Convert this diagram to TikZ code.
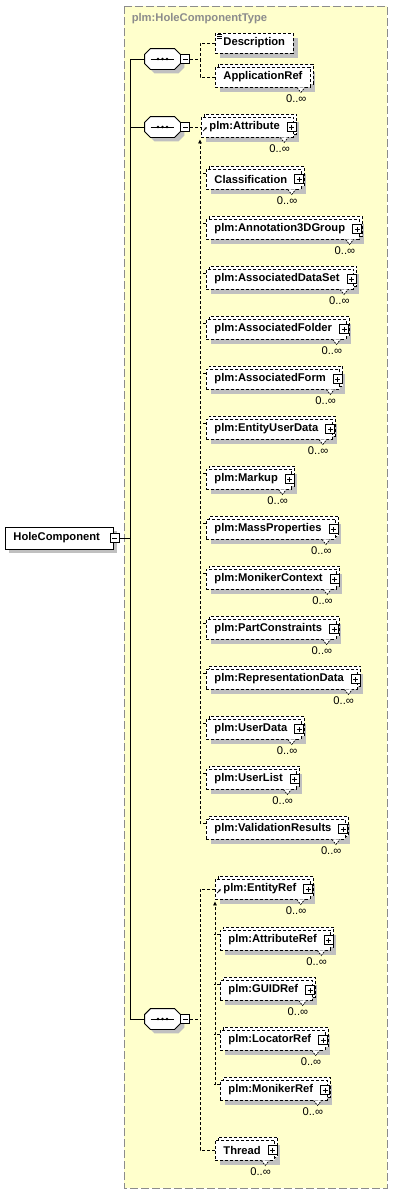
\documentclass[tikz,border=0pt]{standalone}
\usepackage{fontspec}
\setmainfont{Liberation Sans}
\usetikzlibrary{arrows.meta,positioning,shadows}
\definecolor{typefill}{HTML}{FFFFCC}
\definecolor{typeline}{HTML}{8C8C8C}
\definecolor{shade}{HTML}{C0C0C0}

\begin{document}
\begin{tikzpicture}[
    x=1pt, y=-1pt, line width=0.9pt,
    every node/.style={font=\fontsize{11.2}{13}\selectfont},
    shd/.style={general shadow={shadow xshift=#1, shadow yshift=-#1, fill=shade, draw=none}},
    elem/.style={draw, dash pattern=on 3pt off 2pt, fill=white, anchor=west, minimum height=20pt,
        inner xsep=8pt, inner ysep=2pt, font=\fontsize{11.2}{13}\selectfont\bfseries, shd=5pt},
    multi/.style={elem, copy shadow={shadow xshift=3pt, shadow yshift=3pt}},
    rootbox/.style={draw, solid, fill=white, anchor=west, minimum height=22pt, inner xsep=8pt,
        font=\fontsize{11.2}{13}\selectfont\bfseries, shd=4pt},
    seqbox/.style={minimum width=35pt, minimum height=20pt, inner sep=0pt},
    octo/.style={draw, fill=white, shd=4pt},
    mbox/.style={draw, solid, fill=white, minimum size=9pt, inner sep=0pt,
        path picture={\draw ([xshift=2pt]path picture bounding box.west) -- ([xshift=-2pt]path picture bounding box.east);}},
    pbox/.style={draw, solid, fill=white, minimum size=9pt, inner sep=0pt,
        path picture={\draw ([xshift=2pt]path picture bounding box.west) -- ([xshift=-2pt]path picture bounding box.east)
            ([yshift=2pt]path picture bounding box.south) -- ([yshift=-2pt]path picture bounding box.north);}},
    dline/.style={dash pattern=on 3pt off 2pt},
    notch/.style={fill=white, line width=0.7pt, dash pattern=on 2pt off 1pt},
    occ/.style={inner sep=0pt, anchor=north east},
    subarr/.style={dline, -{Triangle[length=4pt, width=3.5pt]}, shorten >=2pt}
]
\useasboundingbox (0,0) rectangle (393,1195);
\draw[typeline, fill=typefill, dash pattern=on 8pt off 3pt] (124,6) rectangle (387,1188);
\node[anchor=west, text=typeline, font=\fontsize{11.2}{13}\selectfont\bfseries] (title) at (128,19) {plm:HoleComponentType};

% root element and its three sequences
\node[rootbox] (root) at (5,538) {HoleComponent\hspace{5.5pt}\mbox{}};
\node[mbox] (root-m) at ([xshift=1pt]root.east) {};
\coordinate (trunk) at (130,538);
\node[seqbox] (seq1) at (162.5,59) {};
\node[seqbox] (seq2) at (162.5,127) {};
\node[seqbox] (seq3) at (162.5,1019) {};
\foreach \s in {seq1,seq2,seq3}{
  \draw[octo] ([xshift=6pt]\s.north west) -- ([xshift=-6pt]\s.north east) -- ([yshift=-6pt]\s.north east)
    -- ([yshift=6pt]\s.south east) -- ([xshift=-6pt]\s.south east) -- ([xshift=6pt]\s.south west)
    -- ([yshift=6pt]\s.south west) -- ([yshift=-6pt]\s.north west) -- cycle;
  \draw ([xshift=6pt]\s.west) -- ([xshift=-6pt]\s.east);
  \foreach \d in {-4.5,0,4.5} \fill ([xshift=\d pt]\s.center) circle (1.4pt);
  \node[mbox, right=0pt of \s] (\s-m) {};
  \draw (\s.west) -| (trunk);
}
\draw (root-m.east) -- (trunk);

% first sequence
\node[elem] (desc) at (215,43) {Description};
\foreach \k in {2,4,6} \draw[solid, line width=0.6pt] ([shift={(2,\k)}]desc.north west) -- ++(5,0);
\node[multi] (appref) at (215,77) {ApplicationRef};
\draw[notch] ([xshift=-14pt]appref.south east) -- ++(4,5) -- ++(4,-5);
\node[occ] (appref-o) at ([xshift=-4pt, yshift=-7pt]appref.south east) {0..∞};
\coordinate (b1) at (200,59);
\draw[dline] (seq1-m.east) -- (b1) (desc.west) -| (b1) (appref.west) -| (b1);

% elements with children
\foreach \n/\t/\x/\y in {attr/plm:Attribute/201/127, cls/Classification/206/179, ann/plm:Annotation3DGroup/206/229,
    ads/plm:AssociatedDataSet/206/279, afo/plm:AssociatedFolder/206/329, afm/plm:AssociatedForm/206/379,
    eud/plm:EntityUserData/206/429, mku/plm:Markup/206/479, mpr/plm:MassProperties/206/529,
    mct/plm:MonikerContext/206/579, pcs/plm:PartConstraints/206/629, rpd/plm:RepresentationData/206/679,
    udt/plm:UserData/206/729, uls/plm:UserList/206/779, vrs/plm:ValidationResults/206/829,
    eref/plm:EntityRef/215/889, aref/plm:AttributeRef/220/940, gref/plm:GUIDRef/220/990,
    lref/plm:LocatorRef/220/1040, mref/plm:MonikerRef/220/1090, thread/Thread/215/1150}{
  \node[multi] (\n) at (\x,\y) {\t\hspace{6pt}\mbox{}};
  \node[pbox] (\n-p) at ([xshift=-2.5pt]\n.east) {};
  \draw[notch] ([xshift=-14pt]\n.south east) -- ++(4,5) -- ++(4,-5);
  \node[occ] (\n-o) at ([xshift=-4pt, yshift=-7pt]\n.south east) {0..∞};
}
\foreach \n in {cls,ann,ads,afo,afm,eud,mku,mpr,mct,pcs,rpd,udt,uls,vrs,aref,gref,lref,mref}
  \draw[dline] ([yshift=-5pt]\n.north west) -- ++(-6,0);
\foreach \n in {attr,eref}
  \draw[-{Latex[length=2.5pt, width=2.5pt]}, line width=0.7pt] ([shift={(2,4)}]\n.west) -- ++(4,-4);

% second sequence: substitution group
\draw[dline] (seq2-m.east) -- (attr.west);
\coordinate (s1) at (200,824);
\draw[subarr] (s1) -- (s1 |- attr.south);

% third sequence
\coordinate (b3) at (200,1019);
\draw[dline] (seq3-m.east) -- (b3) (eref.west) -| (b3) (thread.west) -| (b3);
\coordinate (s2) at (215,1085);
\draw[subarr] (s2) -- (s2 |- eref.south);
\end{tikzpicture}
\end{document}
